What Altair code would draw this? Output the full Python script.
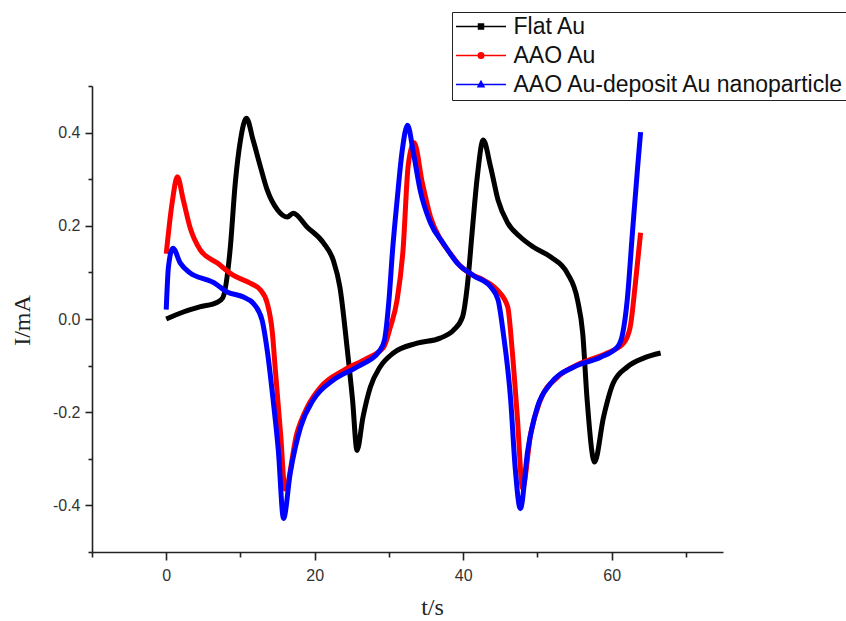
import altair as alt
import pandas as pd

# ---- data ----
series_names = ["Flat Au", "AAO Au", "AAO Au-deposit Au nanoparticle"]
series_colors = ["#000000", "#ff0000", "#0000ff"]
# legend glyphs: a line with a small marker in the middle (square, circle, triangle)
legend_shapes = [
    "M-5,0H5M-0.5,-0.5H0.5V0.5H-0.5Z",
    "M-5,0H5M-0.55,0A0.55,0.55,0,1,0,0.55,0A0.55,0.55,0,1,0,-0.55,0Z",
    "M-5,0H5M0,-0.65L0.6,0.45H-0.6Z",
]

t_flat = [0.0, 2.3, 4.5, 6.9, 7.6, 8.6, 9.3, 10.0, 10.8, 11.7, 12.7, 13.6, 15.0, 16.3, 17.1,
          19.0, 21.2, 22.5, 23.4, 24.4, 25.1, 25.7, 26.5, 27.5, 28.8, 30.6, 33.8, 36.9,
          38.7, 39.9, 40.6, 41.2, 41.9, 42.7, 43.7, 44.7, 46.0, 47.7, 49.5, 51.8, 54.0,
          55.4, 56.1, 56.7, 57.7, 58.9, 60.2, 62.1, 64.3, 66.6]
i_flat = [0.000, 0.015, 0.026, 0.036, 0.045, 0.148, 0.292, 0.384, 0.431, 0.384, 0.326, 0.277,
          0.234, 0.219, 0.227, 0.197, 0.163, 0.126, 0.068, -0.067, -0.174, -0.282, -0.211,
          -0.146, -0.103, -0.073, -0.052, -0.041, -0.024, 0.004, 0.077, 0.185, 0.305, 0.384,
          0.326, 0.255, 0.206, 0.176, 0.154, 0.133, 0.099, 0.041, -0.030, -0.174, -0.307,
          -0.211, -0.138, -0.103, -0.084, -0.073]

t_aao = [0.0, 0.8, 1.5, 2.3, 3.2, 4.6, 6.9, 9.0, 11.3, 12.7, 13.6, 14.3, 14.7, 15.4, 16.0,
         17.6, 19.0, 20.8, 23.9, 27.1, 29.3, 30.2, 31.1, 31.9, 32.6, 33.4, 34.5, 35.6, 36.9,
         38.3, 39.6, 41.0, 42.7, 44.6, 46.0, 46.6, 47.3, 48.0, 49.1, 50.4, 52.7, 55.8, 59.4,
         61.6, 62.5, 63.2, 63.9]
i_aao = [0.140, 0.250, 0.305, 0.255, 0.197, 0.148, 0.120, 0.094, 0.077, 0.062, 0.034, -0.030,
         -0.110, -0.245, -0.365, -0.245, -0.189, -0.146, -0.110, -0.084, -0.060, -0.017,
         0.041, 0.148, 0.330, 0.378, 0.292, 0.219, 0.172, 0.140, 0.114, 0.097, 0.084, 0.062,
         0.026, -0.067, -0.211, -0.363, -0.245, -0.174, -0.125, -0.095, -0.073, -0.052,
         -0.017, 0.077, 0.185]

t_np = [0.0, 0.3, 0.9, 1.9, 3.2, 5.5, 6.3, 8.2, 10.4, 11.7, 12.9, 13.6, 14.4, 15.1, 15.8,
        16.7, 18.1, 19.8, 22.5, 25.7, 28.8, 29.4, 30.0, 30.5, 31.1, 31.8, 32.5, 33.3, 34.2,
        35.6, 37.3, 39.2, 41.4, 43.7, 44.7, 45.4, 46.4, 47.0, 47.7, 48.7, 50.0, 51.8, 54.9,
        58.5, 60.8, 61.5, 62.1, 62.8, 63.5, 63.9]
i_np = [0.020, 0.112, 0.152, 0.120, 0.099, 0.084, 0.079, 0.058, 0.047, 0.034, -0.002, -0.067,
        -0.174, -0.282, -0.428, -0.331, -0.232, -0.174, -0.131, -0.103, -0.067, -0.045, 0.040,
        0.150, 0.255, 0.363, 0.416, 0.356, 0.277, 0.206, 0.163, 0.120, 0.093, 0.069, 0.041,
        -0.030, -0.174, -0.318, -0.407, -0.282, -0.189, -0.138, -0.103, -0.082, -0.060, -0.030,
        0.041, 0.185, 0.326, 0.401]

x_major = [0, 20, 40, 60]
x_minor = [-10, 10, 30, 50, 70]
y_major = [-0.4, -0.2, 0.0, 0.2, 0.4]
y_minor = [-0.5, -0.3, -0.1, 0.1, 0.3, 0.5]

rows = []
for name, ts, vs in zip(series_names, [t_flat, t_aao, t_np], [i_flat, i_aao, i_np]):
    for t, v in zip(ts, vs):
        rows.append({"series": name, "t": t, "I": v})
df = pd.DataFrame(rows)

x_scale = alt.Scale(domain=[-10, 75], nice=False, zero=False)
y_scale = alt.Scale(domain=[-0.5, 0.5], nice=False, zero=False)
col_scale = alt.Scale(domain=series_names, range=series_colors)
shape_scale = alt.Scale(domain=series_names, range=legend_shapes)

label_font = "Liberation Sans"
title_font = "Liberation Serif"


def make_legend():
    return alt.Legend(
        title=None, orient="none", legendX=360, legendY=-74, direction="vertical",
        labelFont=label_font, labelFontSize=23, labelColor="#111111", labelLimit=0,
        symbolSize=100, symbolStrokeWidth=1.5, symbolOffset=14.5, labelOffset=21,
        symbolOpacity=1, rowPadding=5, padding=3, strokeColor="#222222", fillColor="white",
    )


x_axis_major = alt.Axis(
    values=x_major, title="t/s", grid=False, orient="bottom",
    domainColor="#222222", domainWidth=1.6, tickColor="#222222", tickWidth=1.6, tickSize=8,
    labelFont=label_font, labelFontSize=16, labelColor="#333333", labelPadding=7,
    titleFont=title_font, titleFontSize=24, titleFontWeight="normal", titleColor="#222222",
    titleX=340, titleY=55, titleBaseline="middle", titleAlign="center",
)
y_axis_major = alt.Axis(
    values=y_major, title="I/mA", grid=False, orient="left",
    labelExpr="datum.value < 0 ? '-' + format(-datum.value, '.1f') : format(datum.value, '.1f')",
    domainColor="#222222", domainWidth=1.6, tickColor="#222222", tickWidth=1.6, tickSize=7,
    labelFont=label_font, labelFontSize=16, labelColor="#333333", labelPadding=5,
    titleFont=title_font, titleFontSize=24, titleFontWeight="normal", titleColor="#222222",
    titleX=-70, titleY=234, titleAngle=270, titleBaseline="middle", titleAlign="center",
)
x_axis_minor = alt.Axis(values=x_minor, title=None, labels=False, grid=False, domain=False,
                        orient="bottom", tickColor="#222222", tickWidth=1.6, tickSize=5)
y_axis_minor = alt.Axis(values=y_minor, title=None, labels=False, grid=False, domain=False,
                        orient="left", tickColor="#222222", tickWidth=1.6, tickSize=4)

# layer holding the minor ticks and the legend glyphs (no visible data points)
guides = alt.Chart(df).transform_filter("false").mark_point(filled=False).encode(
    x=alt.X("t:Q", scale=x_scale, axis=x_axis_minor),
    y=alt.Y("I:Q", scale=y_scale, axis=y_axis_minor),
    stroke=alt.Stroke("series:N", scale=col_scale, legend=make_legend()),
    fill=alt.Fill("series:N", scale=col_scale, legend=make_legend()),
    shape=alt.Shape("series:N", scale=shape_scale, legend=make_legend()),
)

lines = alt.Chart(df).mark_line(strokeWidth=5, interpolate="monotone", strokeJoin="round").encode(
    x=alt.X("t:Q", scale=x_scale, axis=x_axis_major),
    y=alt.Y("I:Q", scale=y_scale, axis=y_axis_major),
    stroke=alt.Stroke("series:N", scale=col_scale, legend=make_legend()),
)

chart = alt.layer(guides, lines).resolve_axis(x="independent", y="independent").properties(
    width=631, height=466,
    autosize=alt.AutoSizeParams(type="none"),
    padding={"left": 92, "top": 86, "right": 123, "bottom": 69},
    background="white",
).configure_view(stroke=None)

chart.save("out.html", embed_options={"renderer": "svg", "actions": False})
